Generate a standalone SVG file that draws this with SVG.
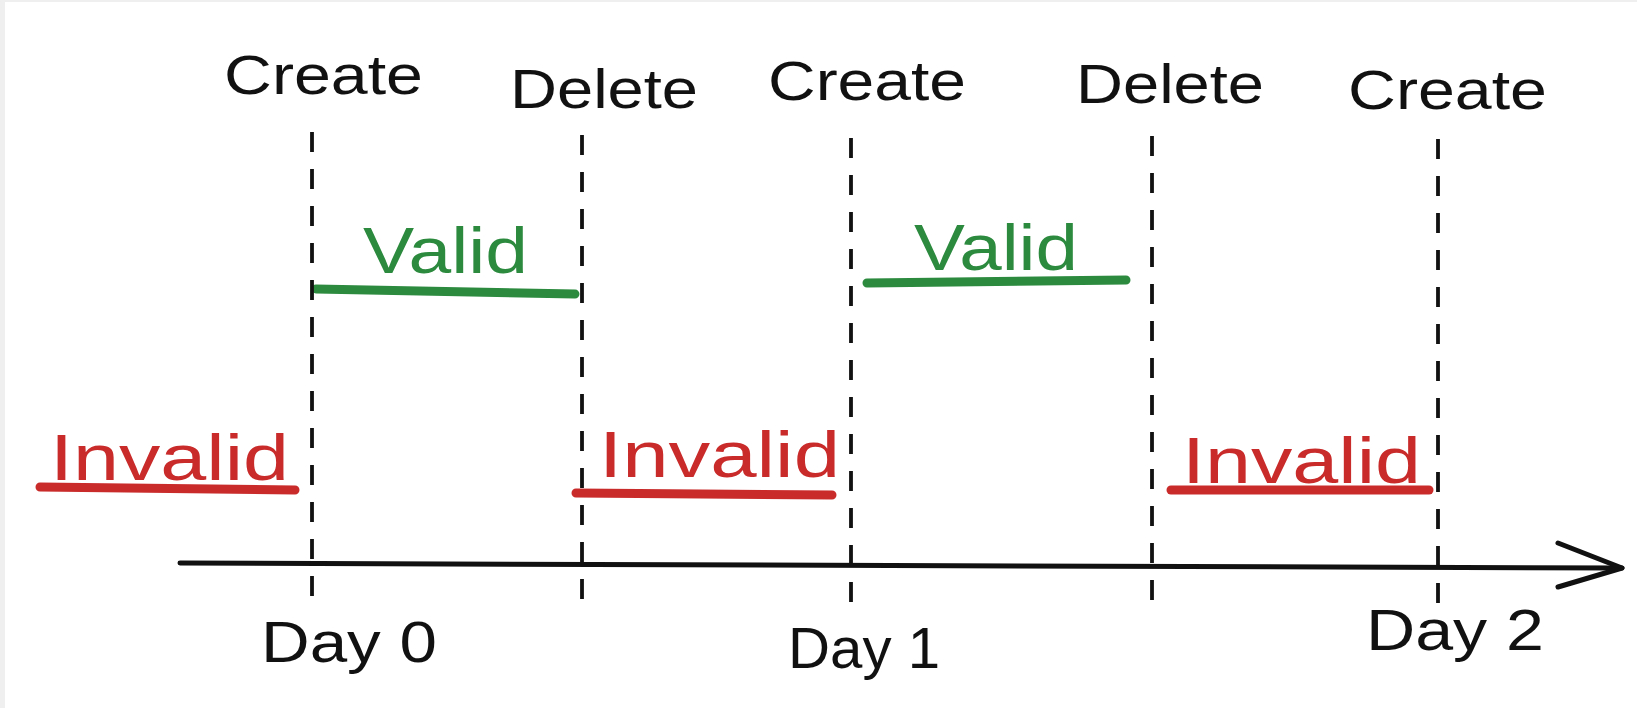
<svg xmlns="http://www.w3.org/2000/svg" width="1637" height="708" viewBox="0 0 1637 708">
  <style>
    .lbl { font-family: "Liberation Sans", Arial, sans-serif; fill: #111111; }
    .top { font-size: 56px; }
    .day { font-size: 58px; }
    .state { font-size: 64px; }
    .ok { fill: #2b8a3e; }
    .bad { fill: #c92a2a; }
    .tick { stroke: #111111; stroke-width: 3.8; stroke-dasharray: 20 17; fill: none; }
    .bar { stroke-width: 9; stroke-linecap: round; fill: none; }
    .bar.ok { stroke: #2b8a3e; fill: none; }
    .bar.bad { stroke: #c92a2a; fill: none; }
    .axis { stroke: #111111; stroke-width: 5; stroke-linecap: round; stroke-linejoin: round; fill: none; }
  </style>

  <!-- page frame -->
  <rect x="0" y="0" width="1637" height="708" fill="#efefef"/>
  <rect x="5" y="2" width="1632" height="706" fill="#ffffff"/>

  <!-- event labels above the ticks -->
  <g id="create-0"><text class="lbl top" x="224" y="94" textLength="199" lengthAdjust="spacingAndGlyphs">Create</text></g>
  <g id="delete-0"><text class="lbl top" x="510" y="108" textLength="188" lengthAdjust="spacingAndGlyphs">Delete</text></g>
  <g id="create-1"><text class="lbl top" x="768" y="100" textLength="198" lengthAdjust="spacingAndGlyphs">Create</text></g>
  <g id="delete-1"><text class="lbl top" x="1076" y="103" textLength="188" lengthAdjust="spacingAndGlyphs">Delete</text></g>
  <g id="create-2"><text class="lbl top" x="1348" y="109" textLength="199" lengthAdjust="spacingAndGlyphs">Create</text></g>

  <!-- valid periods -->
  <g id="valid-0">
    <text class="lbl state ok" x="363" y="273" textLength="165" lengthAdjust="spacingAndGlyphs">Valid</text>
    <path class="bar ok" d="M316 289 L575 294"/>
  </g>
  <g id="valid-1">
    <text class="lbl state ok" x="914" y="270" textLength="164" lengthAdjust="spacingAndGlyphs">Valid</text>
    <path class="bar ok" d="M867 283 L1126 280"/>
  </g>

  <!-- invalid periods -->
  <g id="invalid-0">
    <text class="lbl state bad" x="50" y="480" textLength="239" lengthAdjust="spacingAndGlyphs">Invalid</text>
    <path class="bar bad" d="M40 487 L295 490"/>
  </g>
  <g id="invalid-1">
    <text class="lbl state bad" x="599" y="477" textLength="241" lengthAdjust="spacingAndGlyphs">Invalid</text>
    <path class="bar bad" d="M576 493 L832 495"/>
  </g>
  <g id="invalid-2">
    <text class="lbl state bad" x="1182" y="483" textLength="239" lengthAdjust="spacingAndGlyphs">Invalid</text>
    <path class="bar bad" d="M1171 490 L1429 490"/>
  </g>

  <!-- day labels below the axis -->
  <g id="day-0"><text class="lbl day" x="261" y="662" textLength="176" lengthAdjust="spacingAndGlyphs">Day 0</text></g>
  <g id="day-1"><text class="lbl day" x="788" y="668" textLength="152" lengthAdjust="spacingAndGlyphs">Day 1</text></g>
  <g id="day-2"><text class="lbl day" x="1366" y="650" textLength="178" lengthAdjust="spacingAndGlyphs">Day 2</text></g>

  <!-- dashed event ticks and time axis -->
  <g id="connectors">
    <line class="tick" x1="312" y1="132" x2="312" y2="600"/>
    <line class="tick" x1="582" y1="135" x2="582" y2="605"/>
    <line class="tick" x1="851" y1="138" x2="851" y2="607"/>
    <line class="tick" x1="1152" y1="136" x2="1152" y2="605"/>
    <line class="tick" x1="1438" y1="139" x2="1438" y2="608"/>
    <path class="axis" d="M180 563 L1622 568"/>
    <path class="axis" d="M1558 543 L1622 568 L1558 587"/>
  </g>
</svg>
